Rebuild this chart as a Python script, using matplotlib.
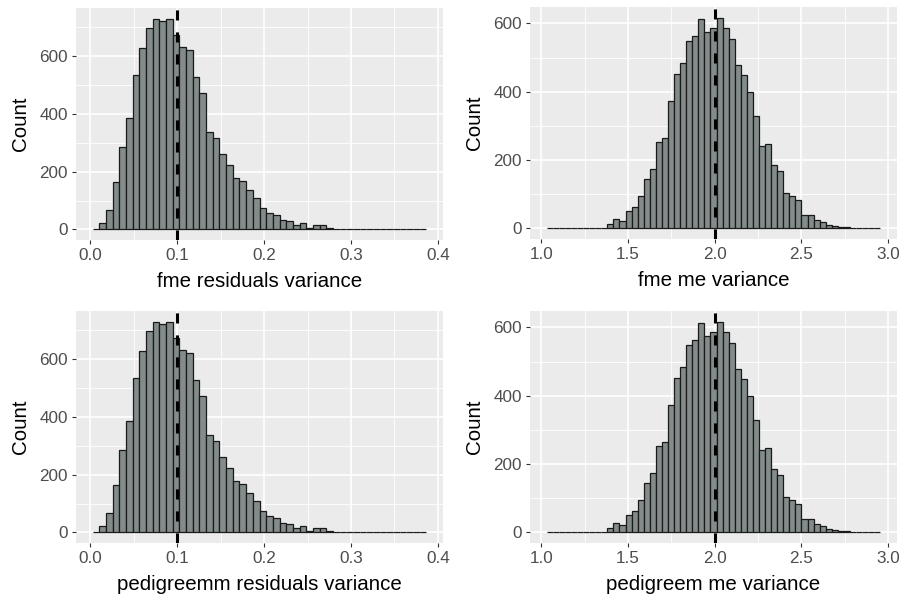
import matplotlib.pyplot as plt
from matplotlib.ticker import MultipleLocator
import numpy as np

plt.rcParams['font.family'] = ['Liberation Sans', 'DejaVu Sans']

# residual variance histogram (50 bins)
resid_range = (0.0027, 0.3867)
resid_counts = [1, 24, 66, 164, 287, 385, 535, 628, 699, 731,
                722, 731, 675, 634, 623, 529, 472, 338, 318, 263,
                224, 178, 168, 136, 110, 75, 57, 51, 34, 28,
                14, 21, 5, 14, 14, 4, 3, 2, 0, 0,
                0, 0, 0, 0, 0, 0, 0, 0, 0, 1]
resid_true = 0.1

# me variance histogram (55 bins)
me_range = (1.032, 2.955)
me_counts = [1, 0, 0, 0, 0, 0, 0, 0, 0, 0,
             13, 28, 21, 52, 64, 95, 146, 173, 253, 264,
             372, 451, 483, 549, 562, 613, 576, 585, 617, 585,
             553, 479, 449, 398, 329, 242, 246, 187, 169, 104,
             96, 84, 39, 39, 24, 19, 9, 8, 4, 3,
             0, 0, 0, 0, 1]
me_true = 2.0

x_labels = ["fme residuals variance", "fme me variance",
            "pedigreemm residuals variance", "pedigreem me variance"]

fig = plt.figure(figsize=(9.02, 5.99), dpi=100)
W, H = 902, 599

def px_axes(x0, y0, x1, y1):
    return fig.add_axes([x0 / W, 1 - y1 / H, (x1 - x0) / W, (y1 - y0) / H])

def hist_panel(ax, rng, counts, vline, xlab, xmaj, xmin_loc):
    counts = np.asarray(counts)
    edges = np.linspace(rng[0], rng[1], len(counts) + 1)
    left = edges[:-1]
    width = edges[1] - edges[0]
    ax.set_facecolor('#EBEBEB')
    ax.bar(left, counts, width=width, align='edge', color='#838B8B',
           edgecolor='#1A1A1A', linewidth=0.9, zorder=3)
    span = rng[1] - rng[0]
    ax.set_xlim(rng[0] - 0.05 * span, rng[1] + 0.05 * span)
    top = counts.max()
    ax.set_ylim(-0.05 * top, 1.05 * top)
    ax.axvline(vline, color='black', linewidth=2.2, dashes=(3.3, 3.9), zorder=4)

    ax.xaxis.set_major_locator(MultipleLocator(xmaj))
    ax.xaxis.set_minor_locator(MultipleLocator(xmin_loc))
    ax.yaxis.set_major_locator(MultipleLocator(200))
    ax.yaxis.set_minor_locator(MultipleLocator(100))
    ax.grid(which='major', color='white', linewidth=1.2, zorder=0)
    ax.grid(which='minor', color='white', linewidth=0.6, zorder=0)
    ax.set_axisbelow(True)
    for s in ax.spines.values():
        s.set_visible(False)
    ax.tick_params(which='major', length=3, width=0.8, color='#333333',
                   labelsize=12.3, labelcolor='#4D4D4D', pad=3)
    ax.tick_params(which='minor', length=0)
    ax.xaxis.set_major_formatter(plt.FuncFormatter(lambda v, p: f"{v:.1f}"))
    ax.yaxis.set_major_formatter(plt.FuncFormatter(lambda v, p: f"{v:.0f}"))

    ax.set_xlabel(xlab, fontsize=14.8, color='black')
    ax.set_ylabel('Count', fontsize=14.8, color='black')
    ax.xaxis.set_label_coords(0.5, -0.181)
    ax.xaxis.label.set_va('center')
    ax.yaxis.set_label_coords(-0.151, 0.5)
    ax.yaxis.label.set_va('center')

ax1 = px_axes(76, 8, 443, 240)
hist_panel(ax1, resid_range, resid_counts, resid_true, x_labels[0], 0.1, 0.05)
ax2 = px_axes(530, 7, 897, 239)
hist_panel(ax2, me_range, me_counts, me_true, x_labels[1], 0.5, 0.25)
ax3 = px_axes(76, 311, 443, 543)
hist_panel(ax3, resid_range, resid_counts, resid_true, x_labels[2], 0.1, 0.05)
ax4 = px_axes(530, 311, 897, 543)
hist_panel(ax4, me_range, me_counts, me_true, x_labels[3], 0.5, 0.25)

fig.savefig('out.png', dpi=100)
